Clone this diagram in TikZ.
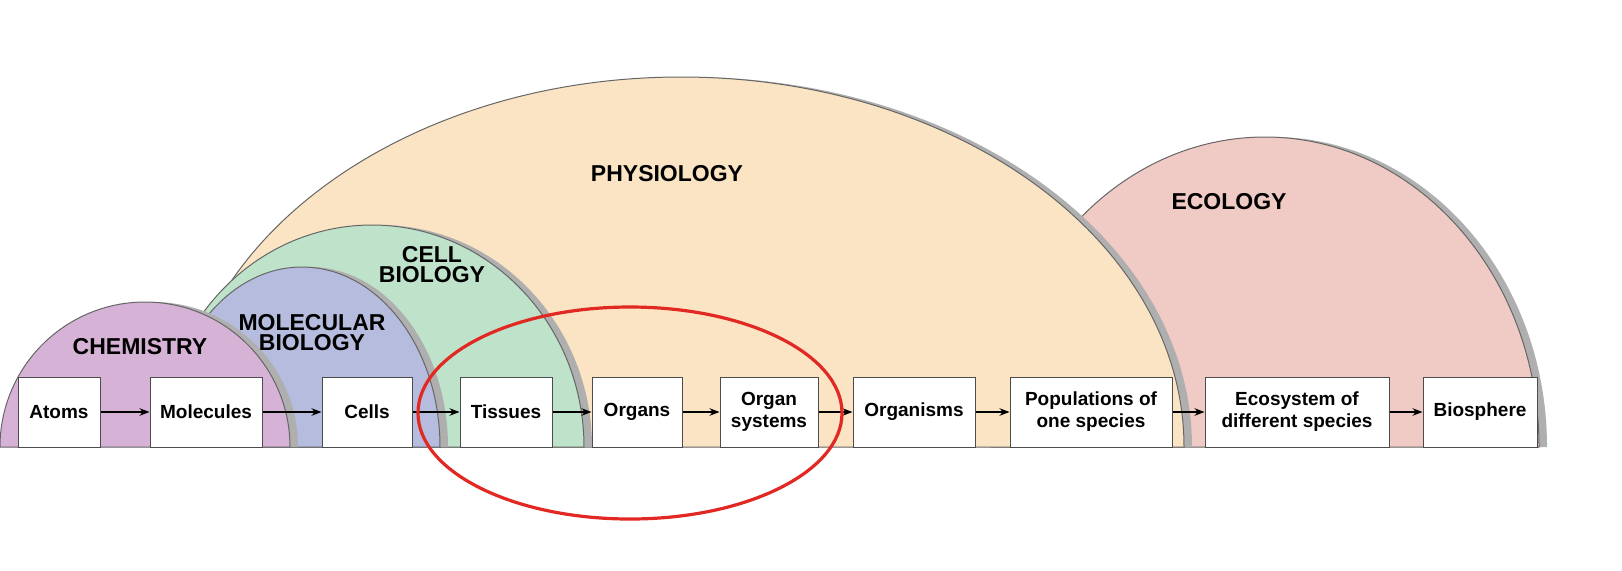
\documentclass[tikz,border=0pt]{standalone}
\usepackage{fontspec}
\setmainfont{Liberation Sans}
\usetikzlibrary{arrows.meta}
\definecolor{chemc}{RGB}{214,178,214}
\definecolor{molc}{RGB}{182,188,222}
\definecolor{cellc}{RGB}{190,226,202}
\definecolor{physc}{RGB}{250,228,196}
\definecolor{ecoc}{RGB}{240,202,196}
\definecolor{shad}{RGB}{175,175,175}
\definecolor{ringc}{RGB}{226,40,34}
\tikzset{
  field/.style={draw=black!60, line width=0.5pt},
  head/.style={font=\bfseries\fontsize{11.5}{12}\selectfont, align=center},
  level/.style={draw=black!70, fill=white, line width=0.5pt, minimum height=35pt,
    inner sep=1pt, align=center, font=\fontsize{9.5}{11}\selectfont\bfseries},
  nextlevel/.style={-{Stealth[length=5pt]}, line width=0.6pt}
}
\newcommand{\halfdome}[5]{% center x, rx, ry, fill
  \fill[shad] (#1-#2+8,447) arc[start angle=180, end angle=360, x radius=#2, y radius=#3];
  \draw[field, fill=#4] (#1-#2,447) arc[start angle=180, end angle=360, x radius=#2, y radius=#3] -- cycle;
}
\begin{document}
\begin{tikzpicture}[x=0.5pt,y=-0.5pt]
\useasboundingbox (0,0) rectangle (1622,570);
\fill[white] (0,0) rectangle (1622,570);
% domes
\halfdome{1265}{274}{310}{ecoc}{}
\halfdome{681}{503}{370}{physc}{}
\halfdome{372}{212}{222}{cellc}{}
\halfdome{302}{138}{180}{molc}{}
\halfdome{145}{145}{145}{chemc}{}
% headings
\node[head] (chem) at (140,347) {CHEMISTRY};
\node[head] (mol) at (312,333) {MOLECULAR\\[-2pt]BIOLOGY};
\node[head] (cell) at (432,265) {CELL\\[-2pt]BIOLOGY};
\node[head] (phys) at (667,174) {PHYSIOLOGY};
\node[head] (eco) at (1229,202) {ECOLOGY};
% levels
\node[level, minimum width=41pt] (atoms) at (59,412) {Atoms};
\node[level, minimum width=56pt] (molecules) at (206,412) {Molecules};
\node[level, minimum width=45pt] (cells) at (367,412) {Cells};
\node[level, minimum width=46pt] (tissues) at (506,412) {Tissues};
\node[level, minimum width=45pt] (organs) at (637,412) {Organs};
\node[level, minimum width=49pt] (systems) at (769,412) {Organ\\systems};
\node[level, minimum width=61pt] (organisms) at (914,412) {Organisms};
\node[level, minimum width=81pt] (pops) at (1091,412) {Populations of\\one species};
\node[level, minimum width=92pt] (ecosys) at (1297,412) {Ecosystem of\\different species};
\node[level, minimum width=57pt] (bio) at (1480,412) {Biosphere};
\foreach \a/\b in {atoms/molecules, molecules/cells, cells/tissues, tissues/organs,
  organs/systems, systems/organisms, organisms/pops, pops/ecosys, ecosys/bio}
  \draw[nextlevel] (\a) -- (\b);
% highlight
\draw[ringc, line width=1.6pt] (630,413) ellipse[x radius=212, y radius=106];
\end{tikzpicture}
\end{document}
